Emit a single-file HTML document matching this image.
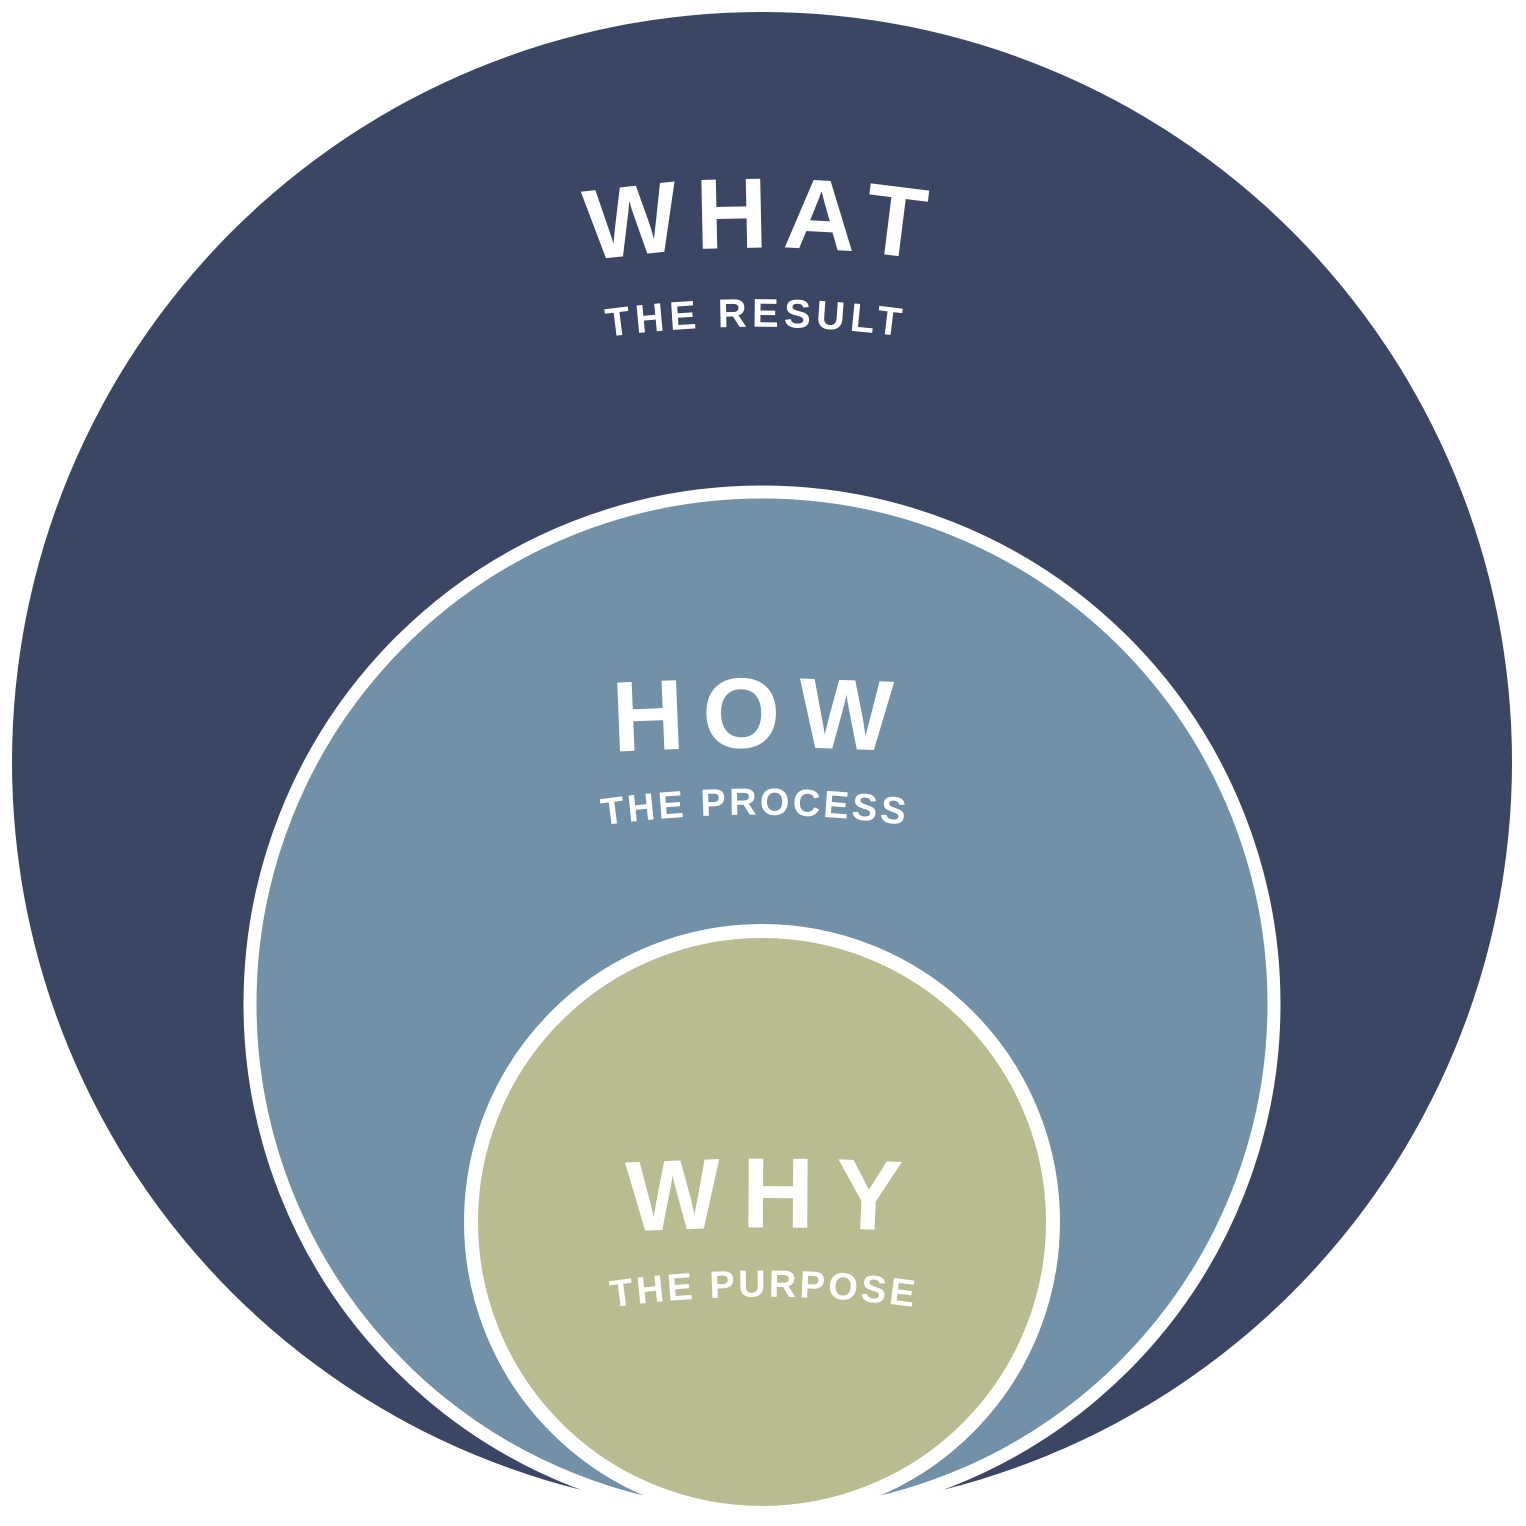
<!DOCTYPE html>
<html><head><meta charset="utf-8"><style>
html,body{margin:0;padding:0;background:#fff;}
svg{display:block;}
text{font-family:"Liberation Sans",sans-serif;font-weight:bold;fill:#fff;}
</style></head><body>
<svg width="1526" height="1526" viewBox="0 0 1526 1526" xmlns="http://www.w3.org/2000/svg">
<defs>
<path id="p1" d="M 400 309 A 1100 1100 0 0 1 1124 309"/>
<path id="p2" d="M 394 388 A 1100 1100 0 0 1 1118 388"/>
<path id="p3" d="M 399 774 A 2500 2500 0 0 1 1123 774"/>
<path id="p4" d="M 393 876 A 1100 1100 0 0 1 1117 876"/>
<path id="p5" d="M 412 1254 A 2500 2500 0 0 1 1136 1254"/>
<path id="p6" d="M 402 1358 A 1100 1100 0 0 1 1126 1358"/>
</defs>
<circle cx="762" cy="762" r="750" fill="#3b4664"/>
<circle cx="762" cy="1004" r="512" fill="#7290a7" stroke="#fff" stroke-width="13"/>
<circle cx="762" cy="1222" r="291" fill="#b8bc90" stroke="#fff" stroke-width="14"/>
<text font-size="100" letter-spacing="14"><textPath href="#p1" startOffset="50%" text-anchor="middle">WHAT</textPath></text>
<text font-size="40" letter-spacing="5"><textPath href="#p2" startOffset="50%" text-anchor="middle">THE RESULT</textPath></text>
<text font-size="100" letter-spacing="17"><textPath href="#p3" startOffset="50%" text-anchor="middle">HOW</textPath></text>
<text font-size="38" letter-spacing="3"><textPath href="#p4" startOffset="50%" text-anchor="middle">THE PROCESS</textPath></text>
<text font-size="100" letter-spacing="20"><textPath href="#p5" startOffset="50%" text-anchor="middle">WHY</textPath></text>
<text font-size="38" letter-spacing="3"><textPath href="#p6" startOffset="50%" text-anchor="middle">THE PURPOSE</textPath></text>
</svg>
</body></html>
